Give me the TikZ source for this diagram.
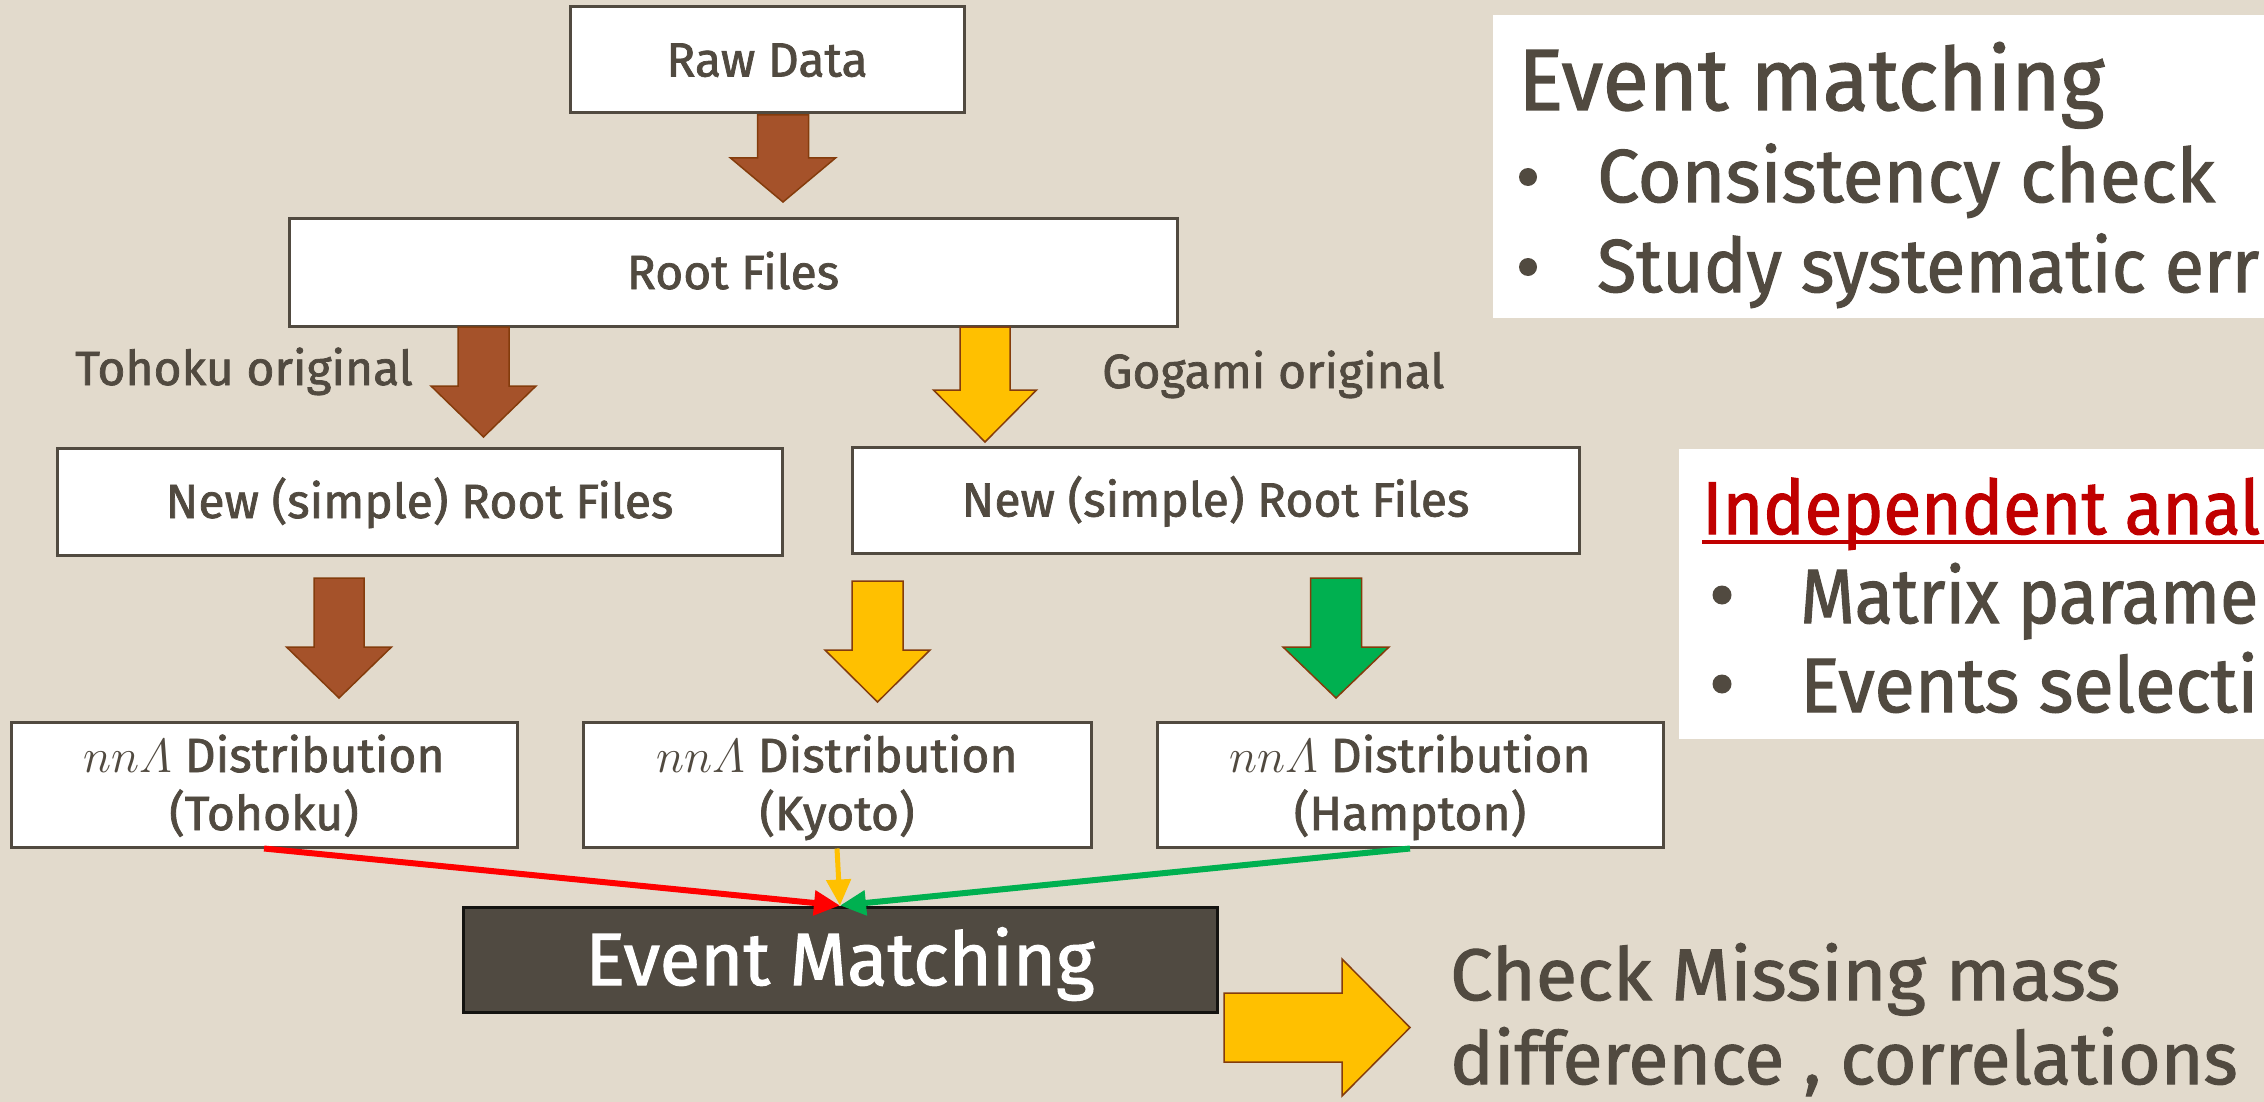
\RequirePackage{fix-cm}
\documentclass[tikz,border=0pt]{standalone}
\usepackage{amsmath}
\usepackage{graphicx}
\usepackage{fontspec}
\setmainfont{Fira Sans}[FakeBold=1.5]
\usetikzlibrary{arrows.meta}
\definecolor{bg}{HTML}{E2DACC}
\definecolor{ink}{HTML}{514A40}
\definecolor{darkbox}{HTML}{504A41}
\definecolor{brownA}{HTML}{A5522A}
\definecolor{edgeA}{HTML}{843C0C}
\definecolor{goldA}{HTML}{FFC000}
\definecolor{greenA}{HTML}{00B050}
\definecolor{redA}{HTML}{FF0000}
\definecolor{titlered}{HTML}{C00000}
\newcommand{\blockdown}[7]{%
  \draw[fill=#1, draw=edgeA, line width=1.5pt]
    ({#2-#6},#3) -- ({#2+#6},#3) -- ({#2+#6},#4) -- ({#2+#7},#4) --
    (#2,#5) -- ({#2-#7},#4) -- ({#2-#6},#4) -- cycle;}
\newcommand{\fitw}[2]{\resizebox{#1}{\height}{#2}}
\tikzset{
  box/.style={draw=ink, line width=3pt, fill=white, text=ink,
    font=\fontsize{48}{58}\selectfont, inner sep=0pt, align=center,
    text height=33pt, text depth=0pt},
  twoline/.style={text height=91pt},
  darkbox/.style={draw=black!75!darkbox, line width=3pt, fill=darkbox, text=white,
    font=\fontsize{74}{88}\selectfont, inner sep=0pt,
    text height=51pt, text depth=0pt},
  lbl/.style={text=ink, font=\fontsize{48}{58}\selectfont, inner sep=0pt, anchor=base west},
  headtxt/.style={text=ink, font=\fontsize{87}{100}\selectfont, inner sep=0pt, anchor=base west},
  bultxt/.style={text=ink, font=\fontsize{75}{90}\selectfont, inner sep=0pt, anchor=base west},
  bigtxt/.style={text=ink, font=\fontsize{73}{88}\selectfont, inner sep=0pt, anchor=base west},
  bulletdot/.style={circle, fill=ink, inner sep=0pt, minimum size=19pt},
  panel/.style={fill=white, draw=none},
  conn/.style={line width=6pt, -{Triangle[length=26pt,width=24pt]}},
}
\begin{document}
\begin{tikzpicture}[x=1pt,y=-1pt]
\useasboundingbox (0,0) rectangle (2264,1102);
\fill[bg] (0,0) rectangle (2264,1102);
\begin{scope}
\clip (0,0) rectangle (2264,1102);

% right panels
\fill[panel] (1493,15) rectangle (2270,318);
\fill[panel] (1679,449) rectangle (2270,739);

% boxes
\node[box, minimum width=394pt, minimum height=106pt] (raw) at (767,60) {Raw Data};
\node[box, minimum width=888pt, minimum height=107pt] (root) at (733,272.5) {Root Files};
\node[box, minimum width=725pt, minimum height=107pt] (newL) at (419.5,501.5) {New (simple) Root Files};
\node[box, minimum width=727pt, minimum height=106pt] (newR) at (1215.5,500) {New (simple) Root Files};
\node[box, twoline, minimum width=506pt, minimum height=125pt] (distT) at (264,784.5) {$nn\varLambda$ Distribution\\(Tohoku)};
\node[box, twoline, minimum width=508pt, minimum height=125pt] (distK) at (837,784.5) {$nn\varLambda$ Distribution\\(Kyoto)};
\node[box, twoline, minimum width=506pt, minimum height=125pt] (distH) at (1410,784.5) {$nn\varLambda$ Distribution\\(Hampton)};
\node[darkbox, minimum width=754pt, minimum height=105pt] (match) at (840,959.5) {Event Matching};

% block arrows
\blockdown{brownA}{783}{115}{158}{202}{25.5}{52.5}
\blockdown{brownA}{483.5}{327}{386}{437}{25.5}{52.5}
\blockdown{goldA}{985}{327}{390}{442}{25}{51.5}
\blockdown{brownA}{339}{578}{647}{698}{25}{52.5}
\blockdown{goldA}{877.5}{581}{650}{702}{25.5}{52.5}
\blockdown{greenA}{1336}{578}{647}{698}{25.5}{53}
\draw[fill=goldA, draw=edgeA, line width=1.5pt]
  (1224,993) -- (1342,993) -- (1342,959) -- (1410,1027.5) -- (1342,1096) --
  (1342,1062) -- (1224,1062) -- cycle;

% labels
\node[lbl] (tohokuorig) at (75,385) {Tohoku original};
\node[lbl] (gogamiorig) at (1102,388) {Gogami original};

% connectors
\draw[conn, redA] (distT.south) -- (match.north);
\draw[conn, greenA] (distH.south) -- (match.north);
\draw[conn, goldA, line width=5pt] (distK.south) -- (match.north);

% right texts
\node[headtxt] (evtitle) at (1518,110) {\fitw{586pt}{Event matching}};
\node[bulletdot, minimum size=18pt] (b1) at (1528,177) {};
\node[bultxt] (t1) at (1597,202) {Consistency check};
\node[bulletdot, minimum size=18pt] (b2) at (1528,267) {};
\node[bultxt] (t2) at (1597,292) {\fitw{662pt}{Study systematic err}};

\node[bultxt, text=titlered] (indtitle) at (1702,534) {\fitw{558pt}{Independent anal}};
\draw[titlered, line width=4pt] ([yshift=-8pt]indtitle.base west) -- (2270,542);
\node[bulletdot] (b3) at (1722,595) {};
\node[bultxt, font=\fontsize{77}{90}\selectfont] (t3) at (1800,623) {\fitw{458pt}{Matrix parame}};
\node[bulletdot] (b4) at (1722,684) {};
\node[bultxt, font=\fontsize{77}{90}\selectfont] (t4) at (1800,712) {\fitw{458pt}{Events selecti}};

\node[bigtxt] (chk1) at (1450,1000) {\fitw{670pt}{Check Missing mass}};
\node[bigtxt, text depth=0pt] (chk2) at (1450,1084) {difference , correlations};
\end{scope}
\end{tikzpicture}
\end{document}
